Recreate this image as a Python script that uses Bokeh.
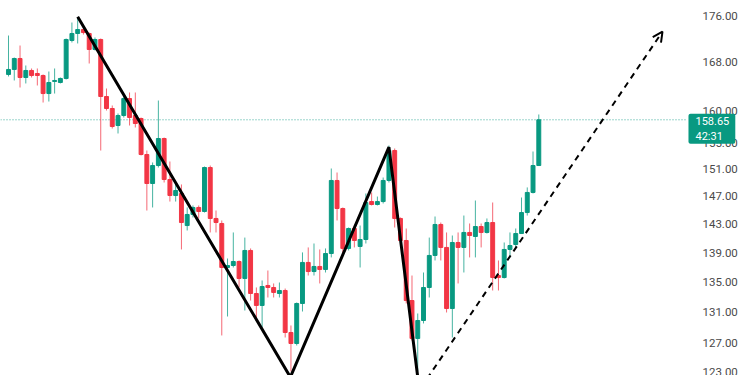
import pandas as pd
from bokeh.plotting import figure
from bokeh.models import (ColumnDataSource, FixedTicker, PrintfTickFormatter,
                          Label, Arrow, OpenHead, Range1d)
from bokeh.embed import file_html
from bokeh.resources import INLINE

# ---- data ----
opens = [165.97, 166.80, 168.63, 165.47, 166.63, 166.13, 165.80, 162.85, 164.82, 164.65,
         165.31, 171.68, 172.88, 173.56, 172.88, 170.15, 171.85, 162.37, 160.44, 157.75,
         159.33, 162.04, 159.33, 158.85, 153.26, 148.90, 151.59, 155.72, 149.50, 147.13,
         147.43, 142.80, 144.38, 145.39, 144.81, 151.29, 143.81, 143.09, 136.96, 137.23,
         137.78, 135.47, 139.30, 133.46, 131.88, 134.53, 134.26, 133.46, 133.86, 128.38,
         126.98, 132.14, 137.65, 136.41, 137.10, 136.69, 138.88, 149.35, 145.24, 139.58,
         142.38, 139.86, 140.83, 146.25, 145.82, 146.25, 149.35, 153.87, 143.81, 140.69,
         132.53, 127.62, 129.92, 134.26, 138.61, 142.95, 139.72, 131.48, 140.41, 139.72,
         141.82, 141.25, 142.66, 141.82, 143.23, 135.87, 135.60, 139.44, 140.13, 141.67,
         144.66, 147.58, 151.59]
closes = [166.80, 168.63, 165.47, 166.63, 165.80, 165.80, 162.85, 164.65, 164.98, 165.31,
          171.85, 172.88, 173.56, 173.04, 170.15, 171.85, 162.37, 160.44, 157.59, 159.33,
          162.04, 159.01, 158.06, 153.26, 148.90, 151.59, 155.72, 149.50, 147.13, 147.87,
          143.23, 144.38, 145.39, 144.81, 151.29, 143.81, 143.23, 136.96, 137.23, 137.78,
          135.47, 139.30, 133.46, 131.88, 134.39, 134.26, 133.60, 133.86, 128.38, 126.98,
          132.14, 137.65, 136.41, 137.10, 136.69, 138.88, 149.35, 145.24, 139.58, 142.38,
          140.69, 140.83, 146.11, 145.82, 146.25, 149.35, 153.87, 143.81, 140.69, 132.53,
          127.62, 129.92, 134.26, 138.61, 142.95, 139.72, 131.48, 140.41, 139.72, 141.82,
          141.39, 142.66, 141.82, 143.23, 135.60, 135.60, 139.44, 139.99, 141.67, 144.66,
          147.58, 151.59, 158.65]
highs = [172.53, 168.79, 170.82, 167.46, 166.96, 166.96, 165.97, 166.46, 166.96, 165.47,
         172.02, 174.78, 175.65, 174.09, 173.04, 172.19, 172.02, 163.67, 160.92, 159.65,
         162.37, 163.02, 163.02, 159.01, 153.87, 152.05, 161.72, 155.87, 152.20, 149.05,
         148.76, 145.39, 145.68, 145.68, 151.44, 151.59, 144.95, 143.52, 138.19, 141.82,
         137.92, 141.10, 139.58, 134.26, 135.20, 136.55, 134.80, 134.93, 134.12, 129.28,
         132.27, 139.03, 139.72, 140.27, 139.44, 139.58, 151.14, 150.54, 145.39, 142.52,
         142.80, 142.80, 147.43, 147.58, 146.98, 149.79, 154.64, 154.18, 143.95, 142.38,
         135.87, 130.83, 136.28, 141.10, 144.09, 143.23, 141.82, 141.39, 141.82, 144.23,
         143.09, 146.40, 143.09, 143.81, 146.11, 137.92, 140.41, 141.82, 142.38, 146.84,
         148.32, 153.72, 159.49]
lows = [165.64, 164.98, 163.83, 164.49, 165.47, 164.16, 161.40, 161.56, 162.85, 164.49,
        165.14, 171.34, 171.17, 172.70, 167.79, 169.98, 153.87, 160.12, 157.28, 156.50,
        159.01, 157.75, 157.44, 153.11, 144.95, 145.39, 151.29, 149.05, 146.25, 146.25,
        139.44, 142.10, 143.95, 143.81, 144.66, 141.82, 141.82, 128.00, 130.44, 136.96,
        134.26, 131.22, 132.53, 129.92, 129.03, 132.93, 132.93, 132.93, 127.74, 123.49,
        126.73, 131.09, 135.87, 135.87, 134.80, 136.28, 138.34, 143.52, 138.61, 139.30,
        139.72, 136.96, 140.27, 145.68, 145.68, 145.97, 149.05, 142.52, 140.41, 132.14,
        127.36, 123.49, 129.54, 132.93, 137.92, 137.92, 130.96, 127.74, 134.80, 136.28,
        138.34, 138.34, 139.72, 141.67, 133.86, 133.86, 135.47, 138.34, 139.72, 141.67,
        144.23, 147.43, 151.59]

trend_x = [12, 48.9, 66, 71]
trend_y = [175.8, 122.8, 154.4, 122.8]
proj_x = [72.6, 113.46]
proj_y = [122.6, 173.2]

last_price = 158.65
last_label = "158.65\n42:31"
tick_values = [123, 127, 131, 135, 139, 143, 147, 151, 155, 160, 168, 176]

GREEN = "#089981"
RED = "#F23645"

X_START, X_AXIS, X_END = -1.39, 117.45, 128.73

idx = list(range(len(opens)))
df = pd.DataFrame(dict(x=idx, open=opens, close=closes, high=highs, low=lows))
df["top"] = df[["open", "close"]].max(axis=1)
df["bottom"] = df[["open", "close"]].min(axis=1)
df["color"] = [GREEN if c >= o else RED for o, c in zip(opens, closes)]
src = ColumnDataSource(df)

p = figure(width=750, height=375, y_axis_type="log", y_axis_location="right",
           x_axis_location=None, output_backend="svg", toolbar_location=None,
           x_range=Range1d(X_START, X_END), y_range=Range1d(123.0, 178.65),
           min_border_left=0, min_border_right=0, min_border_top=0, min_border_bottom=0)
p.outline_line_color = None
p.grid.visible = False
p.background_fill_color = "white"
p.border_fill_color = "white"

ax = p.yaxis[0]
ax.fixed_location = X_AXIS
ax.ticker = FixedTicker(ticks=tick_values)
ax.formatter = PrintfTickFormatter(format="%.2f")
ax.axis_line_color = None
ax.major_tick_line_color = None
ax.minor_tick_line_color = None
ax.major_label_text_font = "Roboto"
ax.major_label_text_font_size = "11.5px"
ax.major_label_text_color = "#4a4a4a"
ax.major_label_standoff = 11

# last price dotted line (up to the price scale)
p.line([X_START, X_AXIS], [last_price, last_price], line_color=GREEN,
       line_dash="1 2", line_width=1, line_alpha=0.8)

# candles
p.segment(x0="x", y0="low", x1="x", y1="high", source=src, line_color="color",
          line_width=1, line_alpha=0.75)
p.vbar(x="x", width=0.68, top="top", bottom="bottom", source=src,
       fill_color="color", line_color="color", line_width=1)

# trend lines
p.line(trend_x, trend_y, line_color="black", line_width=3)
p.add_layout(Arrow(x_start=proj_x[0], y_start=proj_y[0], x_end=proj_x[1], y_end=proj_y[1],
                   line_color="black", line_width=2, line_dash="6 5",
                   end=OpenHead(size=10, line_width=2, line_color="black")))

# price label on the price scale
p.add_layout(Label(x=X_AXIS + 0.52, y=last_price, text=last_label,
                   text_color="white", text_font="Roboto", text_font_size="11px",
                   text_baseline="top", text_line_height=1.15, y_offset=6,
                   background_fill_color=GREEN,
                   padding=dict(left=7, right=6, top=1, bottom=1), border_radius=2))

open("out.html", "w").write(file_html(p, INLINE))
